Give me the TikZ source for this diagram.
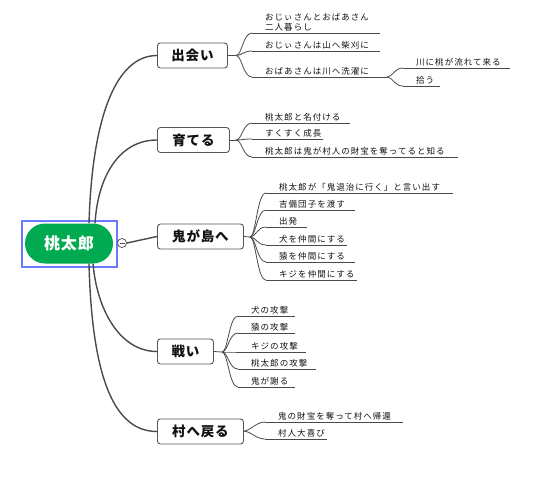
\documentclass[tikz,border=0pt]{standalone}
\usepackage{fontspec}
\newfontfamily\jpleaf[LetterSpace=12]{Noto Sans CJK JP}
\newfontfamily\jpmain[LetterSpace=6]{Noto Sans CJK JP}
\usetikzlibrary{calc}
\definecolor{lin}{HTML}{4A4A4A}
\definecolor{boxc}{HTML}{555555}
\definecolor{txt}{HTML}{111111}
\definecolor{rootg}{HTML}{00AA50}
\definecolor{selblue}{HTML}{6B7BFF}
\tikzset{
  leaf/.style={anchor=south west, inner sep=0pt, font=\jpleaf\fontsize{8.5}{9.5}\selectfont, text=txt, align=left},
  uline/.style={draw=lin, line width=0.8pt},
  bline/.style={draw=lin, line width=0.8pt},
  mline/.style={draw=lin, line width=1.4pt},
  topic/.style={draw=boxc, line width=0.9pt, rounded corners=3pt, fill=white, minimum height=25pt, inner sep=0pt, anchor=west, font=\jpmain\bfseries\fontsize{13.5}{15}\selectfont, text=txt},
  rootnode/.style={fill=rootg, rounded corners=20pt, minimum width=88pt, minimum height=40pt, inner sep=0pt, text=white, font=\jpmain\bfseries\fontsize{16}{18}\selectfont},
}
% name, branch point, underline start x, underline y, underline end x, text
\newcommand\leafitem[6]{%
  \coordinate (#1) at (#3,#4);
  \node[leaf] (#1t) at ($(#1)+(13,-2)$) {#6};
  \draw[uline] (#1) -- (#5,#4);
  \draw[bline] (#2) .. controls +(6,0) and +(-9,0) .. (#1);
}
\begin{document}
\begin{tikzpicture}[x=1pt, y=-1pt]
\useasboundingbox (0,0) rectangle (545,477);

% root
\node[rootnode] (root) at (69,243.5) {桃太郎};
\draw[selblue, line width=1.3pt] (22,221) rectangle (117,267);
\node[circle, draw=lin, fill=white, minimum size=9pt, inner sep=0pt, line width=0.7pt] (col) at (122,243) {};
\draw[lin, line width=0.8pt] ($(col.center)+(-2.5,0)$) -- ($(col.center)+(2.5,0)$);

% main topics
\node[topic, minimum width=70pt] (A) at (157,55.5) {出会い};
\node[topic, minimum width=72pt] (B) at (157,140) {育てる};
\node[topic, minimum width=86pt] (C) at (157,236.5) {鬼が島へ};
\node[topic, minimum width=56pt] (D) at (157,351.5) {戦い};
\node[topic, minimum width=86pt] (E) at (157,431.5) {村へ戻る};

% main connectors
\draw[mline] ($(root.north)+(20,0)$) .. controls (92,120) and (115,55.5) .. (A.west);
\draw[mline] ($(root.north)+(26,0)$) .. controls (98,175) and (120,140) .. (B.west);
\draw[mline] (col.east) -- (C.west);
\draw[mline] ($(root.south)+(24,0)$) .. controls (97,310) and (120,351.5) .. (D.west);
\draw[mline] ($(root.south)+(20,0)$) .. controls (92,380) and (115,431.5) .. (E.west);

% branch points
\coordinate (Ab) at (236,55.5);
\coordinate (Bb) at (236,140);
\coordinate (Cb) at (250,237);
\coordinate (Db) at (222,352);
\coordinate (Eb) at (244,431);
\draw[bline] (A.east) -- (Ab);
\draw[bline] (B.east) -- (Bb);
\draw[bline] (C.east) -- (Cb);
\draw[bline] (D.east) -- (Db);
\draw[bline] (E.east) -- (Eb);

% 出会い
\leafitem{a1}{Ab}{252}{33}{380}{おじぃさんとおばあさん\\二人暮らし}
\leafitem{a2}{Ab}{252}{51}{380}{おじぃさんは山へ柴刈に}
\leafitem{a3}{Ab}{252}{77}{382}{おばあさんは川へ洗濯に}
\coordinate (a3b) at (387,77);
\draw[bline] (382,77) -- (a3b);
\leafitem{a31}{a3b}{403}{68}{510}{川に桃が流れて来る}
\leafitem{a32}{a3b}{403}{86}{440}{拾う}

% 育てる
\leafitem{b1}{Bb}{252}{123}{350}{桃太郎と名付ける}
\leafitem{b2}{Bb}{252}{139}{323}{すくすく成長}
\leafitem{b3}{Bb}{252}{157}{458}{桃太郎は鬼が村人の財宝を奪ってると知る}

% 鬼が島へ
\leafitem{c1}{Cb}{266}{193}{453}{桃太郎が「鬼退治に行く」と言い出す}
\leafitem{c2}{Cb}{266}{210}{355}{吉備団子を渡す}
\leafitem{c3}{Cb}{266}{227}{307}{出発}
\leafitem{c4}{Cb}{266}{245}{347}{犬を仲間にする}
\leafitem{c5}{Cb}{266}{262}{355}{猿を仲間にする}
\leafitem{c6}{Cb}{266}{280}{357}{キジを仲間にする}

% 戦い
\leafitem{d1}{Db}{238}{316}{295}{犬の攻撃}
\leafitem{d2}{Db}{238}{333}{295}{猿の攻撃}
\leafitem{d3}{Db}{238}{352}{306}{キジの攻撃}
\leafitem{d4}{Db}{238}{369}{316}{桃太郎の攻撃}
\leafitem{d5}{Db}{238}{387}{295}{鬼が謝る}

% 村へ戻る
\leafitem{e1}{Eb}{265}{422}{403}{鬼の財宝を奪って村へ帰還}
\leafitem{e2}{Eb}{265}{439}{327}{村人大喜び}
\end{tikzpicture}
\end{document}
